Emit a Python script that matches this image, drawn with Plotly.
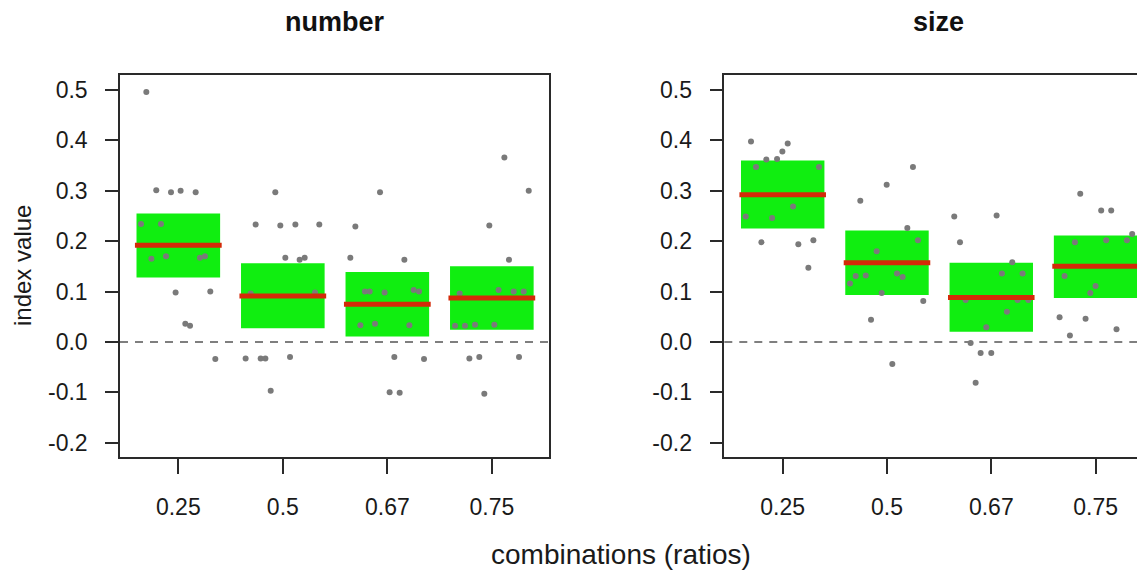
import plotly.graph_objects as go

# ---------------- data ----------------
categories = ["0.25", "0.5", "0.67", "0.75"]
cat_pos = [1, 2, 3, 4]

# panel "number": jittered x positions and index values
number_x = [0.694, 0.789, 0.930, 1.022, 1.166, 0.643, 0.834, 0.742, 0.882, 1.207, 1.255, 0.974, 1.306, 1.067, 1.112, 1.354,
            1.928, 1.740, 1.976, 2.120, 2.349, 2.024, 2.161, 2.209, 1.692, 2.308, 1.644, 1.788, 1.833, 2.069, 1.884,
            2.930, 2.694, 2.646, 3.163, 2.786, 2.831, 2.974, 3.252, 3.303, 2.742, 2.882, 3.211, 3.067, 3.351, 3.022, 3.118,
            4.120, 4.353, 3.976, 4.164, 3.692, 4.065, 4.209, 4.305, 3.648, 3.743, 3.839, 4.024, 3.785, 3.880, 4.260, 3.928]
number_y = [0.496, 0.301, 0.297, 0.300, 0.297, 0.234, 0.234, 0.165, 0.170, 0.167, 0.170, 0.098, 0.100, 0.036, 0.032, -0.034,
            0.297, 0.233, 0.231, 0.233, 0.233, 0.167, 0.163, 0.167, 0.096, 0.098, -0.033, -0.033, -0.033, -0.030, -0.097,
            0.297, 0.229, 0.167, 0.163, 0.100, 0.100, 0.098, 0.103, 0.100, 0.033, 0.036, 0.033, -0.030, -0.034, -0.100, -0.101,
            0.366, 0.300, 0.231, 0.163, 0.096, 0.103, 0.100, 0.100, 0.032, 0.032, 0.034, 0.034, -0.033, -0.030, -0.030, -0.103]
number_mean = [0.192, 0.091, 0.075, 0.087]
number_lo = [0.128, 0.027, 0.011, 0.024]
number_hi = [0.255, 0.156, 0.139, 0.150]

# panel "size"
size_x = [0.696, 1.048, 0.997, 0.843, 0.946, 0.744, 1.348, 1.099, 0.645, 0.898, 0.796, 1.150, 1.294, 1.246,
          2.249, 1.997, 1.744, 2.195, 2.297, 1.901, 1.645, 1.700, 1.796, 2.096, 2.150, 1.949, 2.348, 1.847, 2.051,
          2.645, 3.051, 2.700, 3.201, 3.102, 3.300, 2.754, 3.252, 3.355, 3.150, 2.952, 2.802, 2.898, 3.000, 2.850,
          3.853, 4.054, 4.150, 3.802, 4.102, 4.300, 4.351, 3.703, 4.000, 3.949, 3.655, 3.904, 3.754, 4.201]
size_y = [0.398, 0.394, 0.378, 0.362, 0.363, 0.347, 0.347, 0.269, 0.249, 0.246, 0.198, 0.194, 0.202, 0.147,
          0.347, 0.312, 0.280, 0.226, 0.202, 0.180, 0.116, 0.131, 0.132, 0.136, 0.129, 0.097, 0.081, 0.044, -0.044,
          0.249, 0.251, 0.198, 0.158, 0.136, 0.136, 0.083, 0.083, 0.083, 0.060, 0.029, -0.002, -0.022, -0.022, -0.081,
          0.294, 0.261, 0.261, 0.198, 0.202, 0.202, 0.214, 0.131, 0.111, 0.097, 0.049, 0.046, 0.013, 0.025]
size_mean = [0.292, 0.157, 0.088, 0.150]
size_lo = [0.225, 0.093, 0.020, 0.087]
size_hi = [0.360, 0.221, 0.157, 0.211]

y_tickvals = [0.5, 0.4, 0.3, 0.2, 0.1, 0.0, -0.1, -0.2]
y_ticktext = ["0.5", "0.4", "0.3", "0.2", "0.1", "0.0", "-0.1", "-0.2"]

# ---------------- styling ----------------
OFF = 8                      # page body margin of the html page
W, H = 1145 - OFF, 573 - OFF
FONT = "Liberation Sans, Arial, Helvetica, sans-serif"
AXC = "#2a2a2a"
GREEN = "#10EE10"
RED = "#D42A08"
PT = "#7a7a7a"
BOX_HALF = 0.4
LINE_HALF = 0.415

fig = go.Figure()

panels = [
    ("x", "y", number_x, number_y, number_mean, number_lo, number_hi),
    ("x2", "y2", size_x, size_y, size_mean, size_lo, size_hi),
]

shapes = []
for xa, ya, px, py, mn, lo, hi in panels:
    for c, m, l, h in zip(cat_pos, mn, lo, hi):
        shapes.append(dict(type="rect", xref=xa, yref=ya, x0=c - BOX_HALF, x1=c + BOX_HALF,
                           y0=l, y1=h, fillcolor=GREEN, line=dict(width=0), layer="below"))
        shapes.append(dict(type="line", xref=xa, yref=ya, x0=c - LINE_HALF, x1=c + LINE_HALF,
                           y0=m, y1=m, line=dict(color=RED, width=5), layer="above"))
    shapes.append(dict(type="line", xref=xa + " domain", yref=ya, x0=0, x1=1, y0=0, y1=0,
                       line=dict(color="#555555", width=1.5, dash="8px,7px"), layer="below"))
    fig.add_trace(go.Scatter(x=px, y=py, xaxis=xa, yaxis=ya, mode="markers",
                             marker=dict(color=PT, size=6, line=dict(width=0)),
                             showlegend=False, hoverinfo="skip"))

def xpix(p):
    return (p - OFF) / W

def ypix(p):
    return 1 - (p - OFF) / H

yr = [-0.2284, 0.5298]
ydom = [ypix(457), ypix(75)]

common_x = dict(tickmode="array", tickvals=cat_pos, ticktext=categories, showgrid=False, zeroline=False,
                showline=True, linecolor=AXC, linewidth=1.5, mirror=True, ticks="outside", ticklen=15,
                tickwidth=1.5, tickcolor=AXC, tickfont=dict(family=FONT, size=23, color="#1a1a1a"),
                ticklabelstandoff=14, automargin=False, fixedrange=True)
common_y = dict(tickmode="array", tickvals=y_tickvals, ticktext=y_ticktext, range=yr, domain=ydom,
                showgrid=False, zeroline=False, showline=True, linecolor=AXC, linewidth=1.5,
                ticks="outside", ticklen=13, tickwidth=1.5, tickcolor=AXC,
                tickfont=dict(family=FONT, size=23, color="#1a1a1a"), ticklabelstandoff=13,
                automargin=False, fixedrange=True)

fig.update_layout(
    width=W, height=H,
    margin=dict(l=0, r=0, t=0, b=0),
    paper_bgcolor="white", plot_bgcolor="white",
    xaxis=dict(common_x, domain=[xpix(120), xpix(549)], range=[0.442, 4.547], anchor="y"),
    yaxis=dict(common_y, mirror=True, anchor="x"),
    xaxis2=dict(common_x, domain=[xpix(724.3), 1.0], range=[0.44, 4.474], anchor="y2"),
    yaxis2=dict(common_y, mirror=False, anchor="x2"),
    shapes=shapes,
    annotations=[
        dict(text="<b>number</b>", x=xpix(334.5), y=ypix(22), xref="paper", yref="paper",
             xanchor="center", yanchor="middle", showarrow=False,
             font=dict(family=FONT, size=27, color="#111111")),
        dict(text="<b>size</b>", x=xpix(938), y=ypix(22), xref="paper", yref="paper",
             xanchor="center", yanchor="middle", showarrow=False,
             font=dict(family=FONT, size=27, color="#111111")),
        dict(text="combinations (ratios)", x=xpix(621), y=ypix(554), xref="paper", yref="paper",
             xanchor="center", yanchor="middle", showarrow=False,
             font=dict(family=FONT, size=28, color="#1a1a1a")),
        dict(text="index value", x=xpix(22), y=ypix(266), xref="paper", yref="paper",
             xanchor="center", yanchor="middle", showarrow=False, textangle=-90,
             font=dict(family=FONT, size=24, color="#1a1a1a")),
    ],
)

fig.write_html("out.html")
